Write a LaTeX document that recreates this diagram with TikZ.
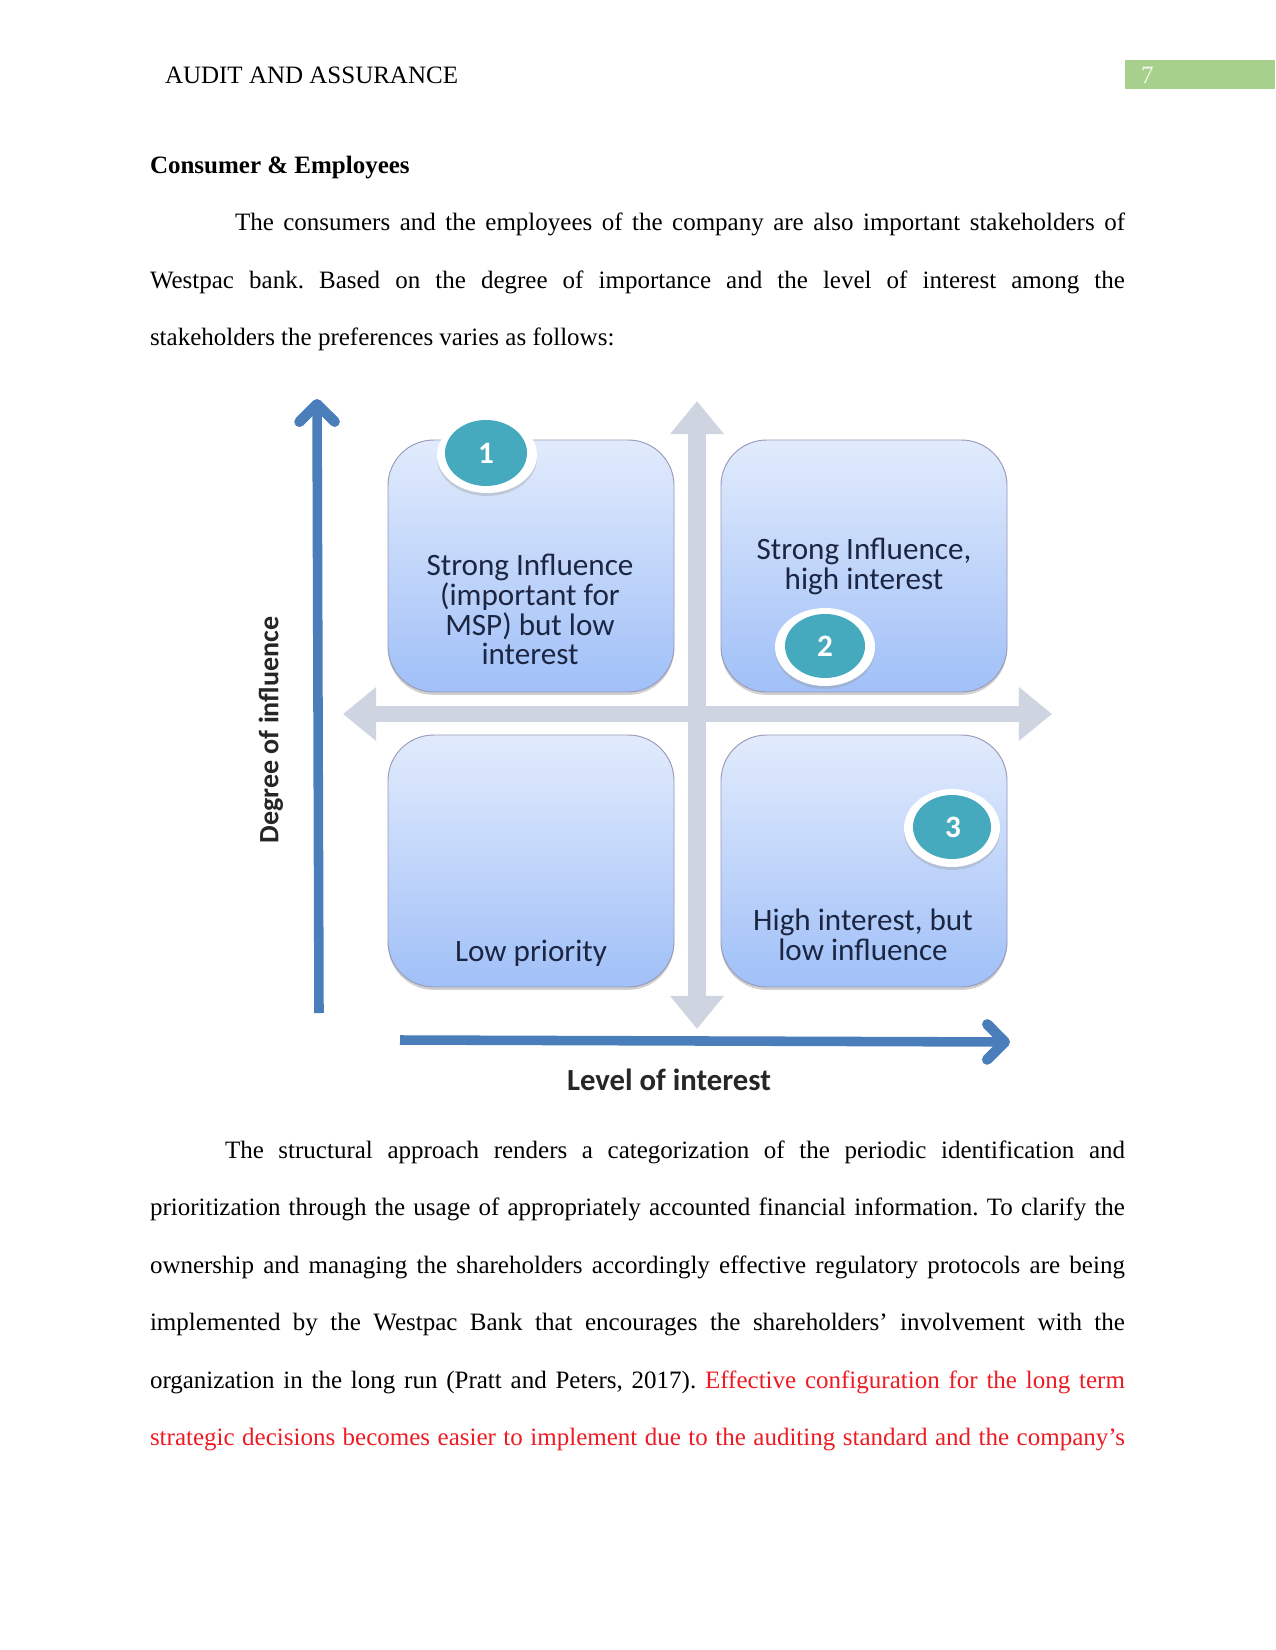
\documentclass[tikz,border=0pt]{standalone}
\usepackage{fontspec}
\setmainfont{Liberation Serif}
\newfontfamily\boxfont{Carlito}
\usetikzlibrary{arrows.meta,shadows}
\frenchspacing
\definecolor{bodyred}{RGB}{237,28,36}
\definecolor{barGreen}{RGB}{168,208,141}
\definecolor{crossGray}{RGB}{206,213,225}
\definecolor{axisBlue}{RGB}{74,126,187}
\definecolor{tealC}{RGB}{70,170,190}
\definecolor{navyT}{RGB}{28,38,66}
\definecolor{quadTop}{RGB}{226,235,252}
\definecolor{quadBot}{RGB}{160,192,248}
\tikzset{
  every node/.style={inner sep=0pt,outer sep=0pt},
  bodyline/.style={anchor=base west,font=\fontsize{12.045}{14}\selectfont},
  quad/.style={draw=black!70!blue!40,line width=0.45pt,rounded corners=22pt,minimum width=137.8pt,minimum height=121.4pt,
    top color=quadTop,bottom color=quadBot,
    drop shadow={shadow xshift=0pt,shadow yshift=-1.4pt,opacity=.3,fill=black!60}},
  quadtext/.style={font=\boxfont\fontsize{15}{14.4}\selectfont,text=navyT,align=center},
  cross/.style={draw=crossGray,-{Triangle[width=25pt,length=16pt]}},
  crossV/.style={cross,line width=9pt},
  crossH/.style={cross,line width=7.5pt},
  axisArrow/.style={line width=4.6pt,draw=axisBlue,-{Straight Barb[length=8.5pt,width=17pt,line width=5pt,round]}},
  axisLabel/.style={font=\boxfont\bfseries\fontsize{13.5}{14}\selectfont,text=black!85},
  axisLabelX/.style={font=\boxfont\bfseries\fontsize{14.8}{15}\selectfont,text=black!85},
  num/.style={font=\boxfont\bfseries\fontsize{15}{15}\selectfont,text=white},
}
\begin{document}
\begin{tikzpicture}[x=0.4818pt,y=-0.4818pt]
\useasboundingbox (0,0) rectangle (1275,1650);
\fill[white] (0,0) rectangle (1275,1650);
% header
\fill[barGreen] (1125,60) rectangle (1275,89);
\node[bodyline,text=white!85!barGreen] (pagenum) at (1141,84) {7};
\node[bodyline] (header) at (165,84) {AUDIT AND ASSURANCE};
% upper text
\node[bodyline] (heading) at (150,174) {\textbf{Consumer \& Employees}};
\node[bodyline] (p1) at (235,231) {\makebox[428.8pt][s]{The consumers and the employees of the company are also important stakeholders of}};
\node[bodyline] (p2) at (150,289) {\makebox[469.7pt][s]{Westpac bank. Based on the degree of importance and the level of interest among the}};
\node[bodyline] (p3) at (150,346) {stakeholders the preferences varies as follows:};
% cross
\coordinate (c) at (697,714);
\coordinate (cN) at (697,401);
\coordinate (cS) at (697,1029);
\coordinate (cW) at (343,714);
\coordinate (cE) at (1052,714);
\draw[crossV] (c) -- (cN);
\draw[crossV] (c) -- (cS);
\draw[crossH] (c) -- (cW);
\draw[crossH] (c) -- (cE);
% quadrants
\node[quad] (q1) at (531,566) {};
\node[quad] (q2) at (864,566) {};
\node[quad] (q3) at (531,861) {};
\node[quad] (q4) at (864,861) {};
\node[quadtext] (t1) at (530,609.5) {Strong Influence\\(important for\\MSP) but low\\interest};
\node[quadtext] (t2) at (864,566.5) {Strong Influence,\\high interest};
\node[quadtext] (t3) at (531,953) {Low priority};
\node[quadtext] (t4) at (863,934.5) {High interest, but\\low influence};
% badges
\fill[black!40,opacity=.35] (487,458) ellipse [x radius=50,y radius=38];
\fill[white] (487,455) ellipse [x radius=50,y radius=38];
\fill[tealC] (486,453) ellipse [x radius=41,y radius=33];
\node[num] (n1) at (486,453) {1};
\fill[black!40,opacity=.35] (825,650) ellipse [x radius=50,y radius=39];
\fill[white] (825,647) ellipse [x radius=50,y radius=39];
\fill[tealC] (825,646) ellipse [x radius=40,y radius=32];
\node[num] (n2) at (825,646) {2};
\fill[black!40,opacity=.35] (952,831) ellipse [x radius=48,y radius=39];
\fill[white] (952,828) ellipse [x radius=48,y radius=39];
\fill[tealC] (952,827) ellipse [x radius=39,y radius=32];
\node[num] (n3) at (953,827) {3};
% axes
\coordinate (yS) at (319,1013);
\coordinate (yE) at (317,399);
\coordinate (xS) at (400,1040);
\coordinate (xE) at (1010,1042);
\draw[axisArrow] (yS) -- (yE);
\draw[axisArrow] (xS) -- (xE);
\node[axisLabel,rotate=90] (ylab) at (271,730) {Degree of influence};
\node[axisLabelX] (xlab) at (669,1080) {Level of interest};
% lower text
\node[bodyline] (b1) at (225,1158) {\makebox[433.6pt][s]{The structural approach renders a categorization of the periodic identification and}};
\node[bodyline] (b2) at (150,1215) {\makebox[469.7pt][s]{prioritization through the usage of appropriately accounted financial information. To clarify the}};
\node[bodyline] (b3) at (150,1273) {\makebox[469.7pt][s]{ownership and managing the shareholders accordingly effective regulatory protocols are being}};
\node[bodyline] (b4) at (150,1330) {\makebox[469.7pt][s]{implemented by the Westpac Bank that encourages the shareholders’ involvement with the}};
\node[bodyline] (b5) at (150,1388) {\makebox[469.7pt][s]{organization in the long run (Pratt and Peters, 2017). \textcolor{bodyred}{Effective configuration for the long term}}};
\node[bodyline,text=bodyred] (b6) at (150,1445) {\makebox[469.7pt][s]{strategic decisions becomes easier to implement due to the auditing standard and the company’s}};
\end{tikzpicture}
\end{document}
